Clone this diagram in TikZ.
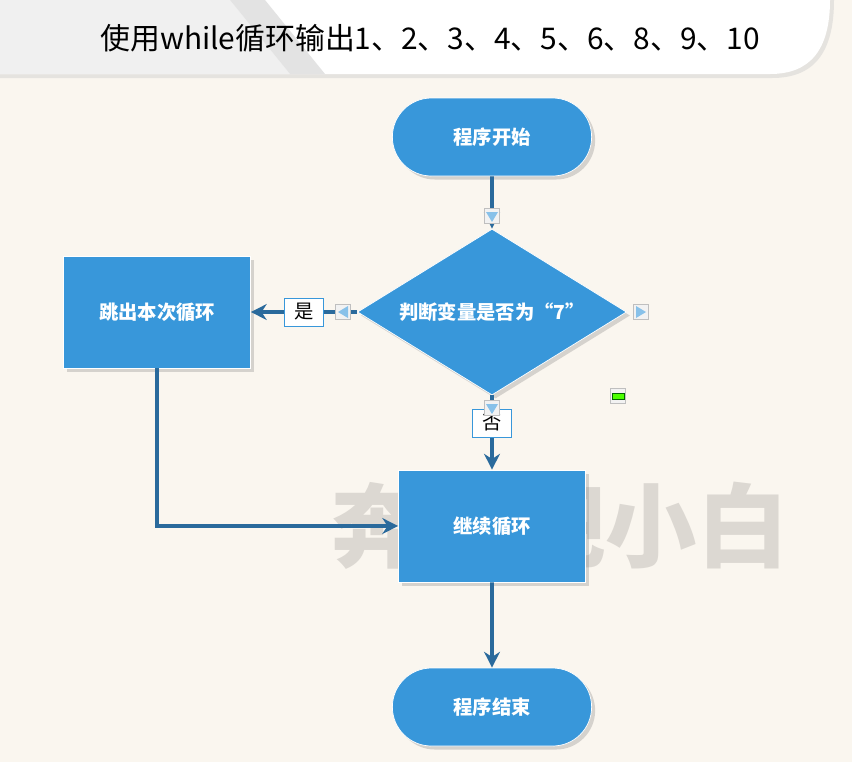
\documentclass[tikz,border=0pt]{standalone}
\usepackage{fontspec}
\setmainfont{Noto Sans CJK SC}
\usetikzlibrary{shapes.geometric,shapes.misc,arrows.meta,shadows}
\definecolor{bgcream}{HTML}{FAF6EF}
\definecolor{flowblue}{HTML}{3897DA}
\definecolor{linkblue}{HTML}{2A6A9C}
\definecolor{markgray}{HTML}{DCD8D2}
\tikzset{
  flowbox/.style={draw=white, fill=flowblue, text=white, font=\bfseries\fontsize{11}{13}\selectfont,
    drop shadow={shadow xshift=2pt, shadow yshift=-2pt, opacity=0.3}},
  term/.style={flowbox, rounded rectangle, minimum width=4.22cm, minimum height=1.56cm},
  proc/.style={flowbox, rectangle, minimum width=3.74cm, minimum height=2.24cm},
  choice/.style={flowbox, diamond, aspect=1.62, minimum width=5.38cm, minimum height=3.32cm, inner sep=0pt},
  tag/.style={draw=flowblue, fill=white, font=\fontsize{11}{13}\selectfont, minimum width=0.78cm, minimum height=0.56cm, inner sep=1pt},
  pin/.style={draw=gray!50, fill=gray!10, minimum size=0.3cm, inner sep=0pt},
  link/.style={draw=linkblue, line width=2.2pt, -{Stealth[length=9pt,width=9pt]}}
}
\begin{document}
\begin{tikzpicture}[x=0.02cm, y=-0.02cm]
    \useasboundingbox (0,0) rectangle (852,762);
    \fill[bgcream] (0,0) rectangle (852,762);

    % header banner
    \fill[gray!40, opacity=0.45] (0,0) -- (834,0) .. controls (834,54) and (813,78) .. (772,78) -- (0,78) -- cycle;
    \fill[white] (0,0) -- (830,0) .. controls (830,50) and (810,74) .. (770,74) -- (0,74) -- cycle;
    \fill[gray!12] (0,0) -- (230,0) -- (290,74) -- (0,74) -- cycle;
    \fill[gray!22] (230,0) -- (265,0) -- (325,74) -- (290,74) -- cycle;
    \node[font=\fontsize{17}{20}\selectfont] (title) at (430,38) {使用while循环输出1、2、3、4、5、6、8、9、10};

    % watermark
    \node[text=markgray, font=\bfseries\fontsize{52}{60}\selectfont] (mark) at (560,526) {奔跑吧小白};

    \node[term] (start) at (492,137) {程序开始};
    \node[choice] (test) at (492,312) {判断变量是否为“7”};
    \node[proc] (skip) at (157,312) {跳出本次循环};
    \node[proc] (goon) at (492,526) {继续循环};
    \node[term] (stop) at (492,707) {程序结束};
    \coordinate (bend) at (157,526);

    \draw[link] (start) -- (test);
    \draw[link] (test) -- (skip);
    \draw[link] (test) -- (goon);
    \draw[link] (skip) -- (bend) -- (goon);
    \draw[link] (goon) -- (stop);

    \node[tag] (yes) at (304,312) {是};
    \node[tag] (no) at (492,423) {否};

    % connection handles
    \node[pin] (ptop) at (492,216) {};
    \node[pin] (pleft) at (343,312) {};
    \node[pin] (pright) at (641,312) {};
    \node[pin] (pbot) at (492,408) {};
    \fill[flowblue!60] (486,212) -- (498,212) -- (492,222) -- cycle;
    \fill[flowblue!60] (348,306) -- (348,318) -- (338,312) -- cycle;
    \fill[flowblue!60] (636,306) -- (636,318) -- (646,312) -- cycle;
    \fill[flowblue!60] (486,404) -- (498,404) -- (492,414) -- cycle;
    \node[pin] (pmark) at (618,396) {};
    \fill[green!60!lime, draw=green!40!black, line width=0.3pt] (612,393) rectangle (624,399);
\end{tikzpicture}
\end{document}
